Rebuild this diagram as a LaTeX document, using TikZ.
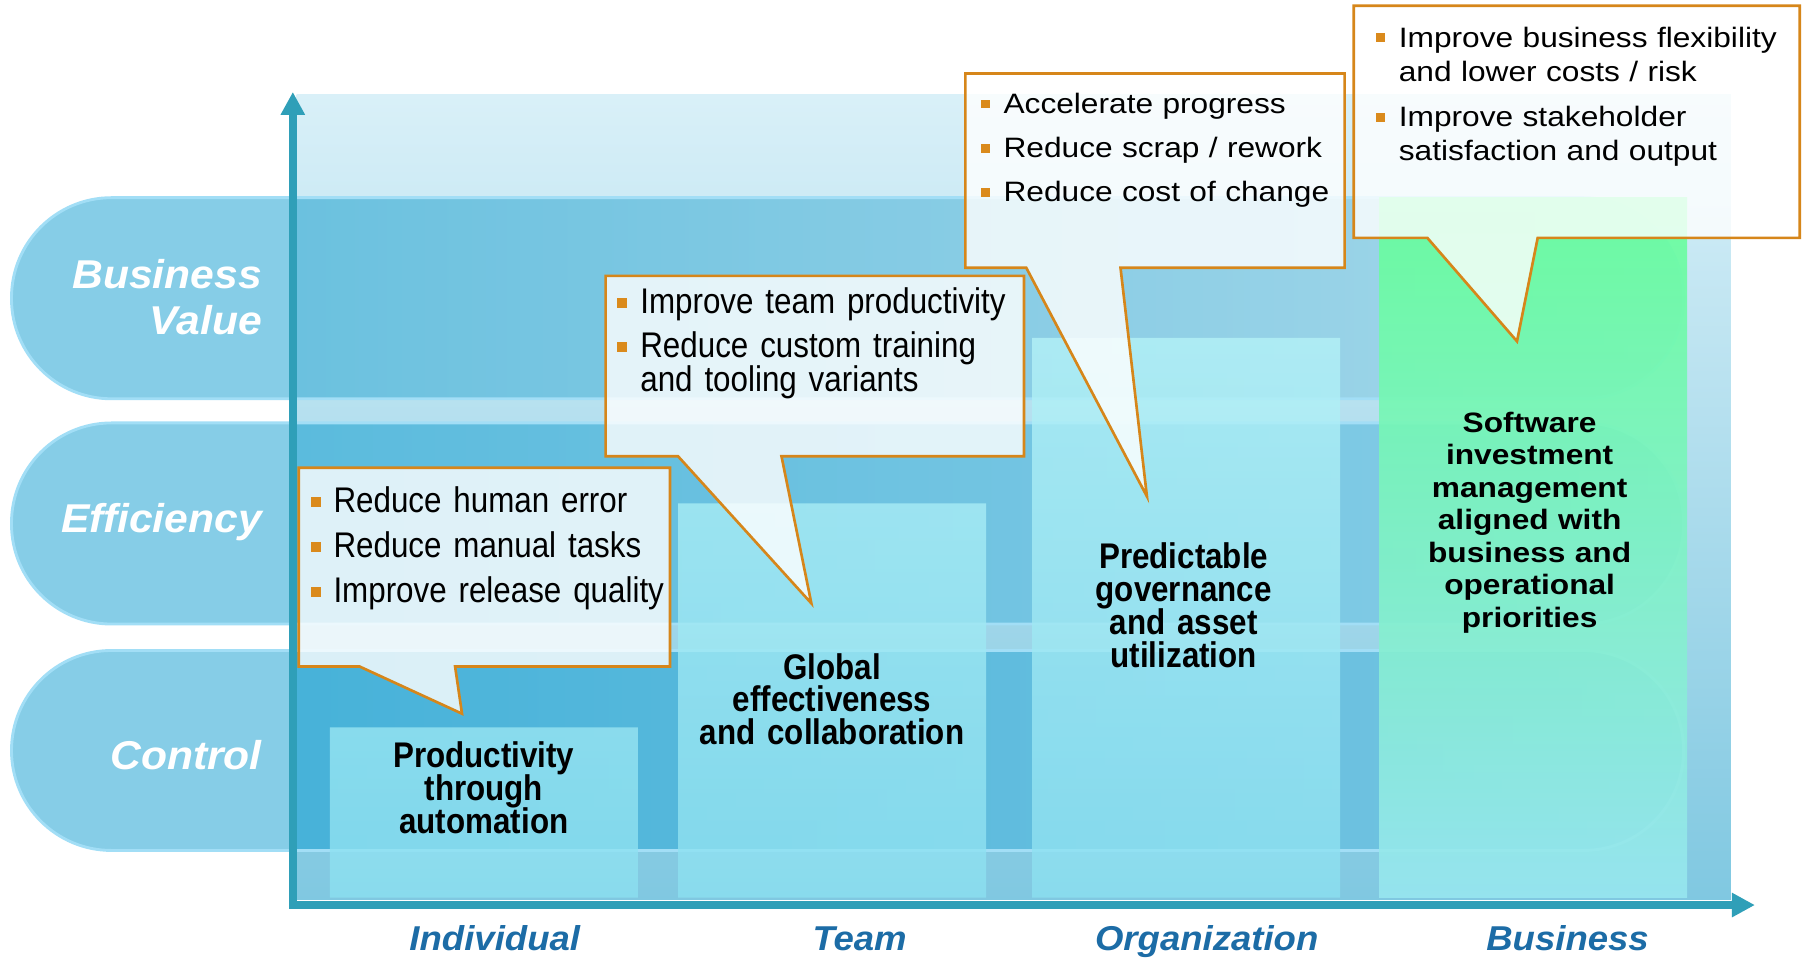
\documentclass[tikz,border=0pt]{standalone}
\usepackage{fontspec}
\setmainfont{Liberation Sans}
\newfontfamily\narrowf[FakeStretch=0.88]{Liberation Sans}
\newfontfamily\widef[FakeStretch=1.13]{Liberation Sans}
\newfontfamily\labf[FakeStretch=1.06]{Liberation Sans}
\usetikzlibrary{arrows.meta}
\lineskiplimit=-100pt
\newcommand{\tightls}{\lineskiplimit=-100pt\lineskip=0pt\relax}
\definecolor{axisc}{HTML}{2F9FB8}
\definecolor{orangec}{HTML}{D6861A}
\definecolor{bulc}{HTML}{DA8A1C}
\definecolor{labc}{HTML}{1C6CA6}
\definecolor{panelTop}{HTML}{D9F0F8}
\definecolor{panelMid}{HTML}{B2E1EF}
\definecolor{panelBot}{HTML}{80C8E1}
\definecolor{pillc}{HTML}{86CDE7}
\definecolor{pillEdge}{HTML}{A2DEF6}
\definecolor{bvL}{HTML}{6BC1DF}
\definecolor{bvR}{HTML}{A6D8EA}
\definecolor{efL}{HTML}{5BBBDD}
\definecolor{efR}{HTML}{88CDE6}
\definecolor{ctL}{HTML}{47B2D9}
\definecolor{ctR}{HTML}{78C6E2}
\definecolor{colTop}{HTML}{B4F2F7}
\definecolor{colBot}{HTML}{8CE0F0}
\definecolor{grTop}{HTML}{66FF99}
\definecolor{grMid}{HTML}{7CF3BC}
\definecolor{grBot}{HTML}{98E6F0}
\newcommand{\nb}{\makebox[20pt][l]{\textcolor{bulc}{\rule[4.6pt]{8.7pt}{8.7pt}}}}
\newcommand{\wb}{\makebox[19.5pt][l]{\textcolor{bulc}{\rule[4.2pt]{7.8pt}{7.8pt}}}}
\tikzset{
  pillfill/.style={fill=pillc, rounded corners=87pt},
  pilledge/.style={draw=pillEdge, line width=2.5pt, rounded corners=87pt},
  callout/.style={draw=orangec, line width=2.3pt, fill=white, fill opacity=0.8, line join=miter},
  ntext/.style={inner sep=0pt, anchor=base west, text width=420pt, align=left, text=black,
    font=\tightls\narrowf\fontsize{31}{39}\selectfont},
  wtext/.style={inner sep=0pt, anchor=base west, text width=420pt, align=left, text=black,
    font=\tightls\widef\fontsize{24.4}{38.5}\selectfont},
  coltext/.style={inner sep=0pt, anchor=base, text width=300pt, align=center, text=black,
    font=\tightls\narrowf\bfseries\fontsize{31}{28.5}\selectfont},
  swtext/.style={inner sep=0pt, anchor=base, text width=300pt, align=center, text=black,
    font=\tightls\widef\bfseries\fontsize{24.4}{28.3}\selectfont},
  rowlab/.style={inner sep=0pt, anchor=base east, text width=250pt, align=right, text=white,
    font=\tightls\labf\bfseries\itshape\fontsize{35}{40}\selectfont},
  axlab/.style={inner sep=0pt, anchor=base, text=labc,
    font=\labf\bfseries\itshape\fontsize{30}{36}\selectfont},
  axisline/.style={draw=axisc, line width=6.7pt, line join=miter,
    {Triangle[width=20pt,length=20pt]}-{Triangle[width=20pt,length=20pt]}},
}
\begin{document}
\begin{tikzpicture}[x=1pt,y=-1pt]
\useasboundingbox (0,0) rectangle (1568,833);
\fill[white] (0,0) rectangle (1568,833);

% background panel
\path[top color=panelTop, middle color=panelMid, bottom color=panelBot] (258,82) rectangle (1506,783);

% row pills
\fill[pillfill] (10,172) rectangle (1465,347);
\fill[pillfill] (10,368) rectangle (1465,543);
\fill[pillfill] (10,566) rectangle (1465,740);
\begin{scope}
\clip[rounded corners=87pt] (10,172) rectangle (1465,347);
\path[left color=bvL, right color=bvR] (257,170) rectangle (1467,349);
\end{scope}
\begin{scope}
\clip[rounded corners=87pt] (10,368) rectangle (1465,543);
\path[left color=efL, right color=efR] (257,366) rectangle (1467,545);
\end{scope}
\begin{scope}
\clip[rounded corners=87pt] (10,566) rectangle (1465,740);
\path[left color=ctL, right color=ctR] (257,564) rectangle (1467,742);
\end{scope}
\draw[pilledge] (10,172) rectangle (1465,347);
\draw[pilledge] (10,368) rectangle (1465,543);
\draw[pilledge] (10,566) rectangle (1465,740);

% columns
\path[top color=colTop, bottom color=colBot, fill opacity=0.8]
  (287,633) rectangle (555,781)
  (590,438) rectangle (858,781)
  (898,294) rectangle (1166,781);
\path[top color=grTop, middle color=grMid, bottom color=grBot, fill opacity=0.9]
  (1200,172) rectangle (1468,781);

% axes
\coordinate (O) at (254.8,787.5);
\coordinate (ytip) at (254.8,80);
\coordinate (xtip) at (1527,787.5);
\draw[axisline] (ytip) -- (O) -- (xtip);

% row labels
\node[rowlab] (lbv) at (228,251) {Business\\Value};
\node[rowlab] (lef) at (228,463.5) {Efficiency};
\node[rowlab] (lct) at (228,669.5) {Control};

% axis labels
\node[axlab] (xind) at (430.5,827) {Individual};
\node[axlab] (xteam) at (748,827) {Team};
\node[axlab] (xorg) at (1050,827) {Organization};
\node[axlab] (xbus) at (1364,827) {Business};

% column labels
\node[coltext] (cind) at (421,668) {Productivity\\through\\automation};
\node[coltext] (cteam) at (724,591) {Global\\effectiveness\\and collaboration};
\node[coltext] (corg) at (1030,495) {Predictable\\governance\\and asset\\utilization};
\node[swtext] (cbus) at (1331,376) {Software\\investment\\management\\aligned with\\business and\\operational\\priorities};

% callouts
\draw[callout] (260,407) -- (583,407) -- (583,580) -- (396,580) -- (402,621) -- (313,580) -- (260,580) -- cycle;
\draw[callout] (527,240) -- (891,240) -- (891,397) -- (680,397) -- (706,525) -- (590,397) -- (527,397) -- cycle;
\draw[callout] (840,64) -- (1170,64) -- (1170,233) -- (975,233) -- (998,432) -- (893,233) -- (840,233) -- cycle;
\draw[callout] (1178,5) -- (1566,5) -- (1566,207) -- (1338,207) -- (1320,297) -- (1242,207) -- (1178,207) -- cycle;

\node[ntext] (t1) at (270,446) {\nb Reduce human error\\\nb Reduce manual tasks\\\nb Improve release quality};
\node[ntext, font=\tightls\narrowf\fontsize{31}{30}\selectfont] (t2) at (537,273) {\nb Improve team productivity\\[8pt]\nb Reduce custom training\\\hspace*{20pt}and tooling variants};
\node[wtext] (t3) at (853.5,98.6) {\wb Accelerate progress\\\wb Reduce scrap / rework\\\wb Reduce cost of change};
\node[wtext, font=\tightls\widef\fontsize{24.4}{29.5}\selectfont] (t4) at (1197.5,41) {\wb Improve business flexibility\\\hspace*{19.5pt}and lower costs / risk\\[10.5pt]\wb Improve stakeholder\\\hspace*{19.5pt}satisfaction and output};
\end{tikzpicture}
\end{document}
